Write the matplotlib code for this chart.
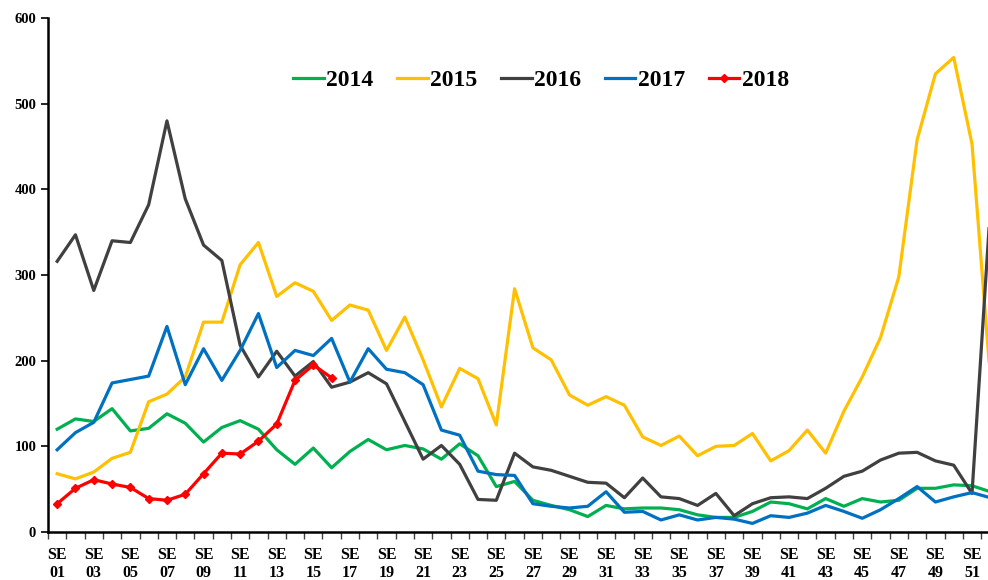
import matplotlib
matplotlib.use("Agg")
import matplotlib.pyplot as plt
import numpy as np

plt.rcParams['font.family'] = ['Liberation Serif', 'DejaVu Serif']
plt.rcParams['font.weight'] = 'bold'

weeks = list(range(1, 53))
tick_labels = ["SE\n%02d" % w for w in weeks if w % 2 == 1]

y2014 = [120, 132, 129, 144, 118, 121, 138, 127, 105, 122, 130, 120, 96, 79, 98, 75,
         94, 108, 96, 101, 97, 85, 103, 89, 53, 59, 37, 31, 26, 18, 31, 27, 28, 28,
         26, 20, 17, 17, 24, 35, 33, 27, 39, 30, 39, 35, 37, 51, 51, 55, 54, 47]
y2015 = [68, 62, 70, 86, 93, 152, 161, 181, 245, 245, 312, 338, 275, 291, 281, 247,
         265, 259, 212, 251, 201, 146, 191, 179, 125, 284, 215, 201, 160, 148, 158, 148,
         111, 101, 112, 89, 100, 101, 115, 83, 95, 119, 92, 141, 181, 227, 298, 458,
         535, 554, 453, 180]
y2016 = [316, 347, 282, 340, 338, 382, 480, 389, 335, 317, 218, 181, 211, 182, 199, 169,
         175, 186, 173, 129, 85, 101, 79, 38, 37, 92, 76, 72, 65, 58, 57, 40, 63, 41,
         39, 31, 45, 19, 33, 40, 41, 39, 51, 65, 71, 84, 92, 93, 83, 78, 45, 378]
y2017 = [96, 116, 128, 174, 178, 182, 240, 172, 214, 177, 212, 255, 192, 212, 206, 226,
         175, 214, 190, 186, 172, 119, 113, 71, 67, 66, 33, 30, 28, 30, 47, 23, 24, 14,
         20, 14, 17, 15, 10, 19, 17, 22, 31, 24, 16, 26, 39, 53, 35, 41, 46, 40]
y2018 = [33, 51, 61, 56, 52, 39, 37, 44, 68, 92, 91, 106, 126, 177, 195, 180]

series = [("2014", y2014, "#00B050"), ("2015", y2015, "#FFC000"),
          ("2016", y2016, "#404040"), ("2017", y2017, "#0070C0")]

fig = plt.figure(figsize=(9.88, 5.8), dpi=100)
ax = fig.add_axes([0.0486, 0.0828, 0.963, 0.886])

for name, vals, col in series:
    ax.plot(weeks[:len(vals)], vals, color=col, lw=2.3, label=name)
ax.plot(weeks[:len(y2018)], y2018, color="#FF0000", lw=2.3, marker="D",
        markersize=4, label="2018")

ax.set_xlim(0.5, 52.5)
ax.set_ylim(0, 600)
ax.set_yticks(range(0, 601, 100))
ax.set_xticks([w for w in weeks if w % 2 == 1])
ax.set_xticklabels(tick_labels, fontsize=11.5, fontweight='bold', linespacing=1.15)
ax.set_xticks(np.arange(0.5, 53, 1), minor=True)
ax.tick_params(axis='x', which='major', length=0, pad=11)
ax.tick_params(axis='x', which='minor', length=5, width=1, color='#404040')
ax.tick_params(axis='y', length=5, width=1.2, labelsize=10.5)
for lab in ax.get_yticklabels():
    lab.set_fontweight('bold')

for s in ['top', 'right']:
    ax.spines[s].set_visible(False)
ax.spines['left'].set_linewidth(1.8)
ax.spines['bottom'].set_linewidth(1.8)

ax.legend(loc='center', bbox_to_anchor=(0.518, 0.879), ncol=5, frameon=False,
          prop={'family': 'Liberation Serif', 'weight': 'bold', 'size': 17},
          handlelength=1.3, handletextpad=0.1, columnspacing=1.0)

fig.savefig("out.png", dpi=100)
